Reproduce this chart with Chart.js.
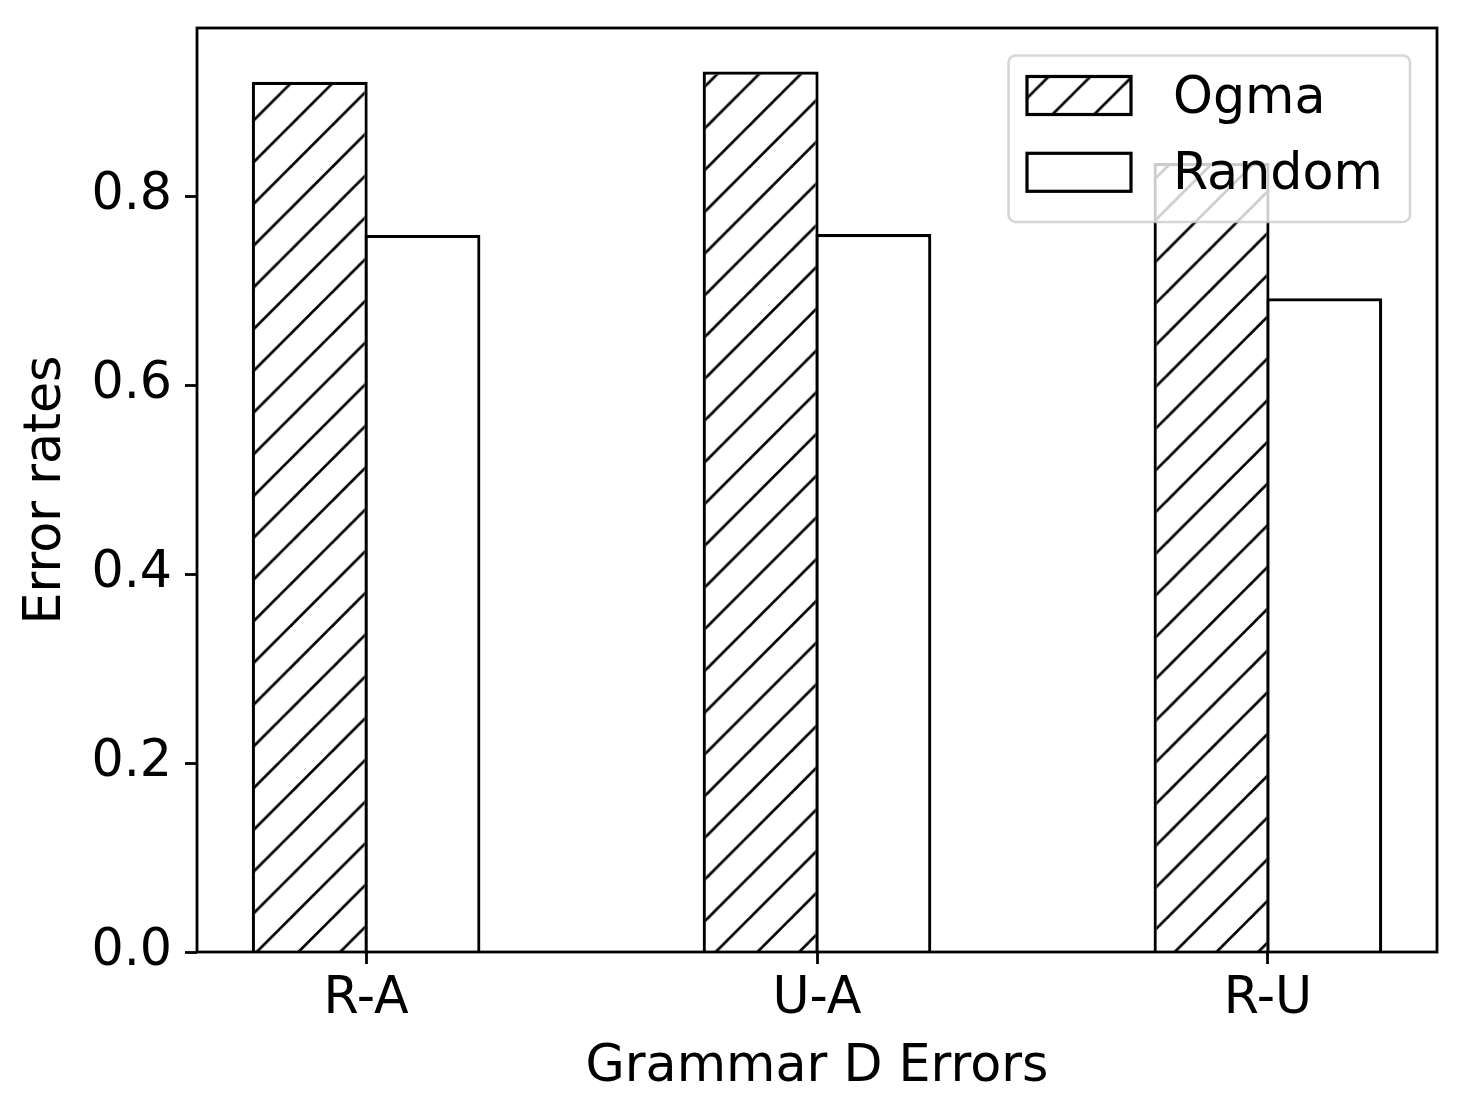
<!DOCTYPE html>
<html>
<head>
<meta charset="utf-8">
<script src="https://cdn.jsdelivr.net/npm/chart.js@4.4.1/dist/chart.umd.min.js"></script>
<style>
  html, body { margin: 0; padding: 0; background: #ffffff; }
  #wrap { width: 1464px; height: 1115px; }
</style>
</head>
<body>
<div id="wrap"><canvas id="c" width="1464" height="1115"></canvas></div>
<script>
// ---- data ----
const categories = ['R-A', 'U-A', 'R-U'];
const ogmaValues = [0.921, 0.932, 0.835];
const randomValues = [0.759, 0.760, 0.692];
const seriesNames = ['Ogma', 'Random'];
const yTickValues = [0.0, 0.2, 0.4, 0.6, 0.8];
const xTitle = 'Grammar D Errors';
const yTitle = 'Error rates';

// ---- styles ----
const FONT = '"DejaVu Sans", "Liberation Sans", sans-serif';
const FS = 50.7;
const EDGE = 3.2;
const SPINE = 2.8;

function makeHatch(spacing, phase, lw) {
  const T = 42;
  const cv = document.createElement('canvas');
  cv.width = T; cv.height = T;
  const g = cv.getContext('2d');
  g.fillStyle = '#ffffff';
  g.fillRect(0, 0, T, T);
  g.strokeStyle = '#000000';
  g.lineWidth = lw;
  const k = spacing / T;
  const c0 = phase / k;
  for (const cc of [c0 - T, c0, c0 + T]) {
    g.beginPath();
    g.moveTo(cc + 20, -20);
    g.lineTo(-20, cc + 20);
    g.stroke();
  }
  const p = g.createPattern(cv, 'repeat');
  p.setTransform(new DOMMatrix([k, 0, 0, k, 0, 0]));
  return p;
}
const hatch = makeHatch(41.73, 40.2, 2.7);

const frameAndLegend = {
  id: 'frameAndLegend',
  afterDatasetsDraw(chart) {
    const ctx = chart.ctx;
    const a = chart.chartArea;
    ctx.save();
    ctx.strokeStyle = '#000000';
    ctx.lineWidth = SPINE;
    ctx.lineJoin = 'miter';
    ctx.strokeRect(a.left, a.top, a.right - a.left, a.bottom - a.top);
    ctx.restore();
  },
  afterDraw(chart) {
    const ctx = chart.ctx;
    ctx.save();
    // legend frame
    const bx = 1008.5, by = 55.5, bw = 401.5, bh = 166.5, r = 7;
    ctx.beginPath();
    ctx.roundRect(bx, by, bw, bh, r);
    ctx.fillStyle = 'rgba(255,255,255,0.8)';
    ctx.fill();
    ctx.strokeStyle = 'rgba(204,204,204,0.8)';
    ctx.lineWidth = 2.6;
    ctx.stroke();
    // entries
    const ds = chart.data.datasets;
    const rows = [95.5, 172.3];
    ds.forEach((d, i) => {
      const cy = rows[i];
      ctx.fillStyle = d.backgroundColor;
      ctx.fillRect(1027, cy - 19, 104, 38);
      ctx.strokeStyle = '#000000';
      ctx.lineWidth = EDGE;
      ctx.strokeRect(1027, cy - 19, 104, 38);
      ctx.fillStyle = '#000000';
      ctx.font = FS + 'px ' + FONT;
      ctx.textAlign = 'left';
      ctx.textBaseline = 'middle';
      ctx.fillText(d.label, 1173, cy + 4);
    });
    ctx.restore();
  }
};

const slot = 112.73;
const chart = new Chart(document.getElementById('c'), {
  type: 'bar',
  data: {
    datasets: [
      {
        label: seriesNames[0],
        data: ogmaValues.map((v, i) => ({ x: i, y: v })),
        backgroundColor: hatch,
        borderColor: '#000000',
        borderWidth: EDGE,
        borderSkipped: 'start'
      },
      {
        label: seriesNames[1],
        data: randomValues.map((v, i) => ({ x: i, y: v })),
        backgroundColor: '#ffffff',
        borderColor: '#000000',
        borderWidth: EDGE,
        borderSkipped: 'start'
      }
    ]
  },
  options: {
    responsive: false,
    animation: false,
    devicePixelRatio: 1,
    categoryPercentage: 0.5,
    barPercentage: (slot + EDGE) / slot,
    layout: { padding: { top: 28, right: 27, left: 0, bottom: 0 } },
    plugins: {
      legend: { display: false },
      tooltip: { enabled: false }
    },
    scales: {
      x: {
        type: 'linear',
        min: -0.375,
        max: 2.375,
        offset: false,
        afterBuildTicks(scale) {
          scale.ticks = categories.map((c, i) => ({ value: i }));
        },
        afterFit(scale) {
          scale.height = 1115 - 952;
          scale.paddingLeft = 0; scale.paddingRight = 0;
        },
        ticks: {
          callback: (v) => categories[Math.round(v)],
          color: '#000000',
          font: { family: FONT, size: FS, lineHeight: 1.2 },
          padding: 5,
          maxRotation: 0,
          autoSkip: false
        },
        grid: {
          offset: false,
          drawOnChartArea: false,
          drawTicks: true,
          tickLength: 12,
          tickWidth: SPINE,
          color: '#000000'
        },
        border: { display: false },
        title: {
          display: true,
          text: xTitle,
          color: '#000000',
          font: { family: FONT, size: FS, lineHeight: 1.2 },
          padding: { top: 0, bottom: 17 }
        }
      },
      y: {
        min: 0,
        max: 0.978,
        afterBuildTicks(scale) {
          scale.ticks = yTickValues.map(v => ({ value: v }));
        },
        afterFit(scale) {
          scale.width = 197;
          scale.paddingTop = 0; scale.paddingBottom = 0;
        },
        ticks: {
          callback: (v) => Number(v).toFixed(1),
          color: '#000000',
          font: { family: FONT, size: FS, lineHeight: 1.2 },
          padding: 13
        },
        grid: {
          offset: false,
          drawOnChartArea: false,
          drawTicks: true,
          tickLength: 12,
          tickWidth: SPINE,
          color: '#000000'
        },
        border: { display: false },
        title: {
          display: true,
          text: yTitle,
          color: '#000000',
          font: { family: FONT, size: FS, lineHeight: 1.2 },
          padding: { top: 16, bottom: 0 }
        }
      }
    }
  },
  plugins: [frameAndLegend]
});
</script>
</body>
</html>
